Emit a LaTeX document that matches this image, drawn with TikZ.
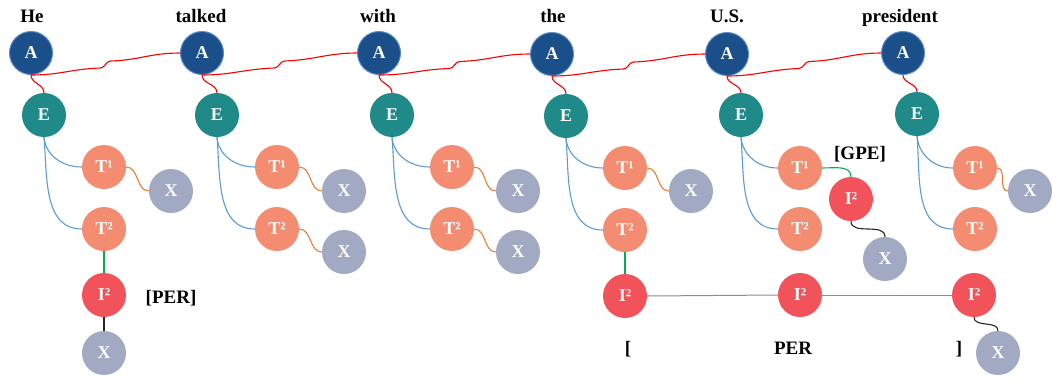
\documentclass[tikz,border=0pt]{standalone}
\usepackage{fontspec}
\setmainfont{Liberation Serif}
\usepackage{xcolor}
\definecolor{anchorBlue}{HTML}{1B4F8A}
\definecolor{anchorRing}{HTML}{5A8BCF}
\definecolor{entityTeal}{HTML}{1F8A87}
\definecolor{typeSalmon}{HTML}{F38C70}
\definecolor{leafGray}{HTML}{A2AAC3}
\definecolor{instRed}{HTML}{F2525A}
\definecolor{linkBlue}{HTML}{5B9BD5}
\definecolor{linkOrange}{HTML}{ED7D31}
\definecolor{linkGreen}{HTML}{00B050}
\usepackage{tikz}
\usetikzlibrary{calc}

\begin{document}
\begin{tikzpicture}[
		x=1pt, y=1pt,
		word/.style={anchor=base, font=\fontsize{19}{19}\selectfont\bfseries},
		ball/.style={
			circle,
			minimum size=44pt,
			inner sep=0pt,
			text=white,
			font=\fontsize{18}{18}\selectfont\bfseries
		},
		anode/.style={ball, fill=anchorBlue, draw=anchorRing, line width=1pt, minimum size=43pt},
		enode/.style={ball, fill=entityTeal},
		tnode/.style={ball, fill=typeSalmon},
		xnode/.style={ball, fill=leafGray},
		inode/.style={ball, fill=instRed},
		% red wire from one anchor to the next, with a small step half way
		chain/.style={red, line width=1.1pt, to path={
				let \p1=($(\tikztostart)!0.5!(\tikztotarget)$) in
				(\tikztostart) .. controls +(30,0) and +(-30,-1) .. (\x1-5,\y1-4)
				.. controls +(4,0) and +(-4,0) .. (\x1+5,\y1+3)
				.. controls +(30,1) and +(-30,0) .. (\tikztotarget)}},
		drop/.style={red, line width=1.1pt},
		fork/.style={linkBlue, line width=1.1pt},
		leaf/.style={linkOrange, line width=1.1pt},
		inst/.style={linkGreen, line width=1.1pt},
		tail/.style={black!85, line width=1.1pt},
		span/.style={black!45, line width=1pt}
		]
		
		\useasboundingbox (0,0) rectangle (1052,-381);
		
		% words
		\node[word] (w1) at (32,-22) {He};
		\node[word] (w2) at (201,-22) {talked};
		\node[word] (w3) at (378,-22) {with};
		\node[word] (w4) at (553,-22) {the};
		\node[word] (w5) at (727,-22) {U.S.};
		\node[word] (w6) at (900,-22) {president};
		
		% anchors and entities
		\node[anode] (a1) at (31,-53) {A};
		\node[anode] (a2) at (202,-53) {A};
		\node[anode] (a3) at (379,-53) {A};
		\node[anode] (a4) at (552,-54) {A};
		\node[anode] (a5) at (727,-54) {A};
		\node[anode] (a6) at (903,-53) {A};
		
		\node[enode] (e1) at (44,-115) {E};
		\node[enode] (e2) at (217,-115) {E};
		\node[enode] (e3) at (392,-115) {E};
		\node[enode] (e4) at (566,-116) {E};
		\node[enode] (e5) at (741,-115) {E};
		\node[enode] (e6) at (917,-114) {E};
		
		% types
		\node[tnode] (ta1) at (104,-167) {T¹};
		\node[tnode] (tb1) at (104,-229) {T²};
		\node[tnode] (ta2) at (277,-167) {T¹};
		\node[tnode] (tb2) at (277,-229) {T²};
		\node[tnode] (ta3) at (452,-167) {T¹};
		\node[tnode] (tb3) at (452,-229) {T²};
		\node[tnode] (ta4) at (625,-168) {T¹};
		\node[tnode] (tb4) at (625,-230) {T²};
		\node[tnode] (ta5) at (800,-168) {T¹};
		\node[tnode] (tb5) at (800,-229) {T²};
		\node[tnode] (ta6) at (975,-168) {T¹};
		\node[tnode] (tb6) at (975,-229) {T²};
		
		% leaves
		\node[xnode] (xa1) at (171,-191) {X};
		\node[xnode] (xa2) at (344,-191) {X};
		\node[xnode] (xb2) at (344,-252) {X};
		\node[xnode] (xa3) at (518,-191) {X};
		\node[xnode] (xb3) at (518,-252) {X};
		\node[xnode] (xa4) at (691,-191) {X};
		\node[xnode] (xa6) at (1030,-191) {X};
		
		% instances
		\node[inode] (i1) at (104,-295) {I²};
		\node[xnode] (xi1) at (104,-353) {X};
		\node[inode] (ig) at (851,-199) {I²};
		\node[xnode] (xg) at (885,-259) {X};
		\node[inode] (i4) at (625,-296) {I²};
		\node[inode] (im) at (800,-295) {I²};
		\node[inode] (i6) at (974,-295) {I²};
		\node[xnode] (xi6) at (998,-353) {X};
		
		% tags
		\node[word] (per1) at (171,-303) {[PER]};
		\node[word] (gpe) at (860,-159) {[GPE]};
		\node[word] (lb) at (628,-354) {[};
		\node[word] (per2) at (793,-354) {PER};
		\node[word] (rb) at (959,-354) {]};
		
		% anchor chain
		\draw[chain] (a1.south) to (a2.west);
		\draw[chain] (a2.south) to (a3.west);
		\draw[chain] (a3.south) to (a4.west);
		\draw[chain] (a4.south) to (a5.west);
		\draw[chain] (a5.south) to (a6.west);
		
		\foreach \n in {1,...,6} {
			\draw[drop] (a\n.south) to[out=-90, in=90] (e\n.north);
			\draw[fork] (e\n.south) to[out=-85, in=180] (ta\n.west);
			\draw[fork] (e\n.south) to[out=-85, in=180] (tb\n.west);
		}
		
		\draw[leaf] (ta1.east) to[out=0, in=180] (xa1.west);
		\draw[leaf] (ta2.east) to[out=0, in=180] (xa2.west);
		\draw[leaf] (tb2.east) to[out=0, in=180] (xb2.west);
		\draw[leaf] (ta3.east) to[out=0, in=180] (xa3.west);
		\draw[leaf] (tb3.east) to[out=0, in=180] (xb3.west);
		\draw[leaf] (ta4.east) to[out=0, in=180] (xa4.west);
		\draw[leaf] (ta6.east) to[out=0, in=180] (xa6.west);
		
		\draw[inst] (tb1.south) -- (i1.north);
		\draw[inst] (tb4.south) -- (i4.north);
		\draw[inst] (ta5.east) to[out=0, in=90] (ig.north);
		
		\draw[tail] (i1.south) -- (xi1.north);
		\draw[tail] (ig.south) to[out=-90, in=90] (xg.north);
		\draw[tail] (i6.south) to[out=-90, in=90] (xi6.north);
		
		\draw[span] (i4.east) -- (im.west);
		\draw[span] (im.east) -- (i6.west);
		
	\end{tikzpicture}
\end{document}
